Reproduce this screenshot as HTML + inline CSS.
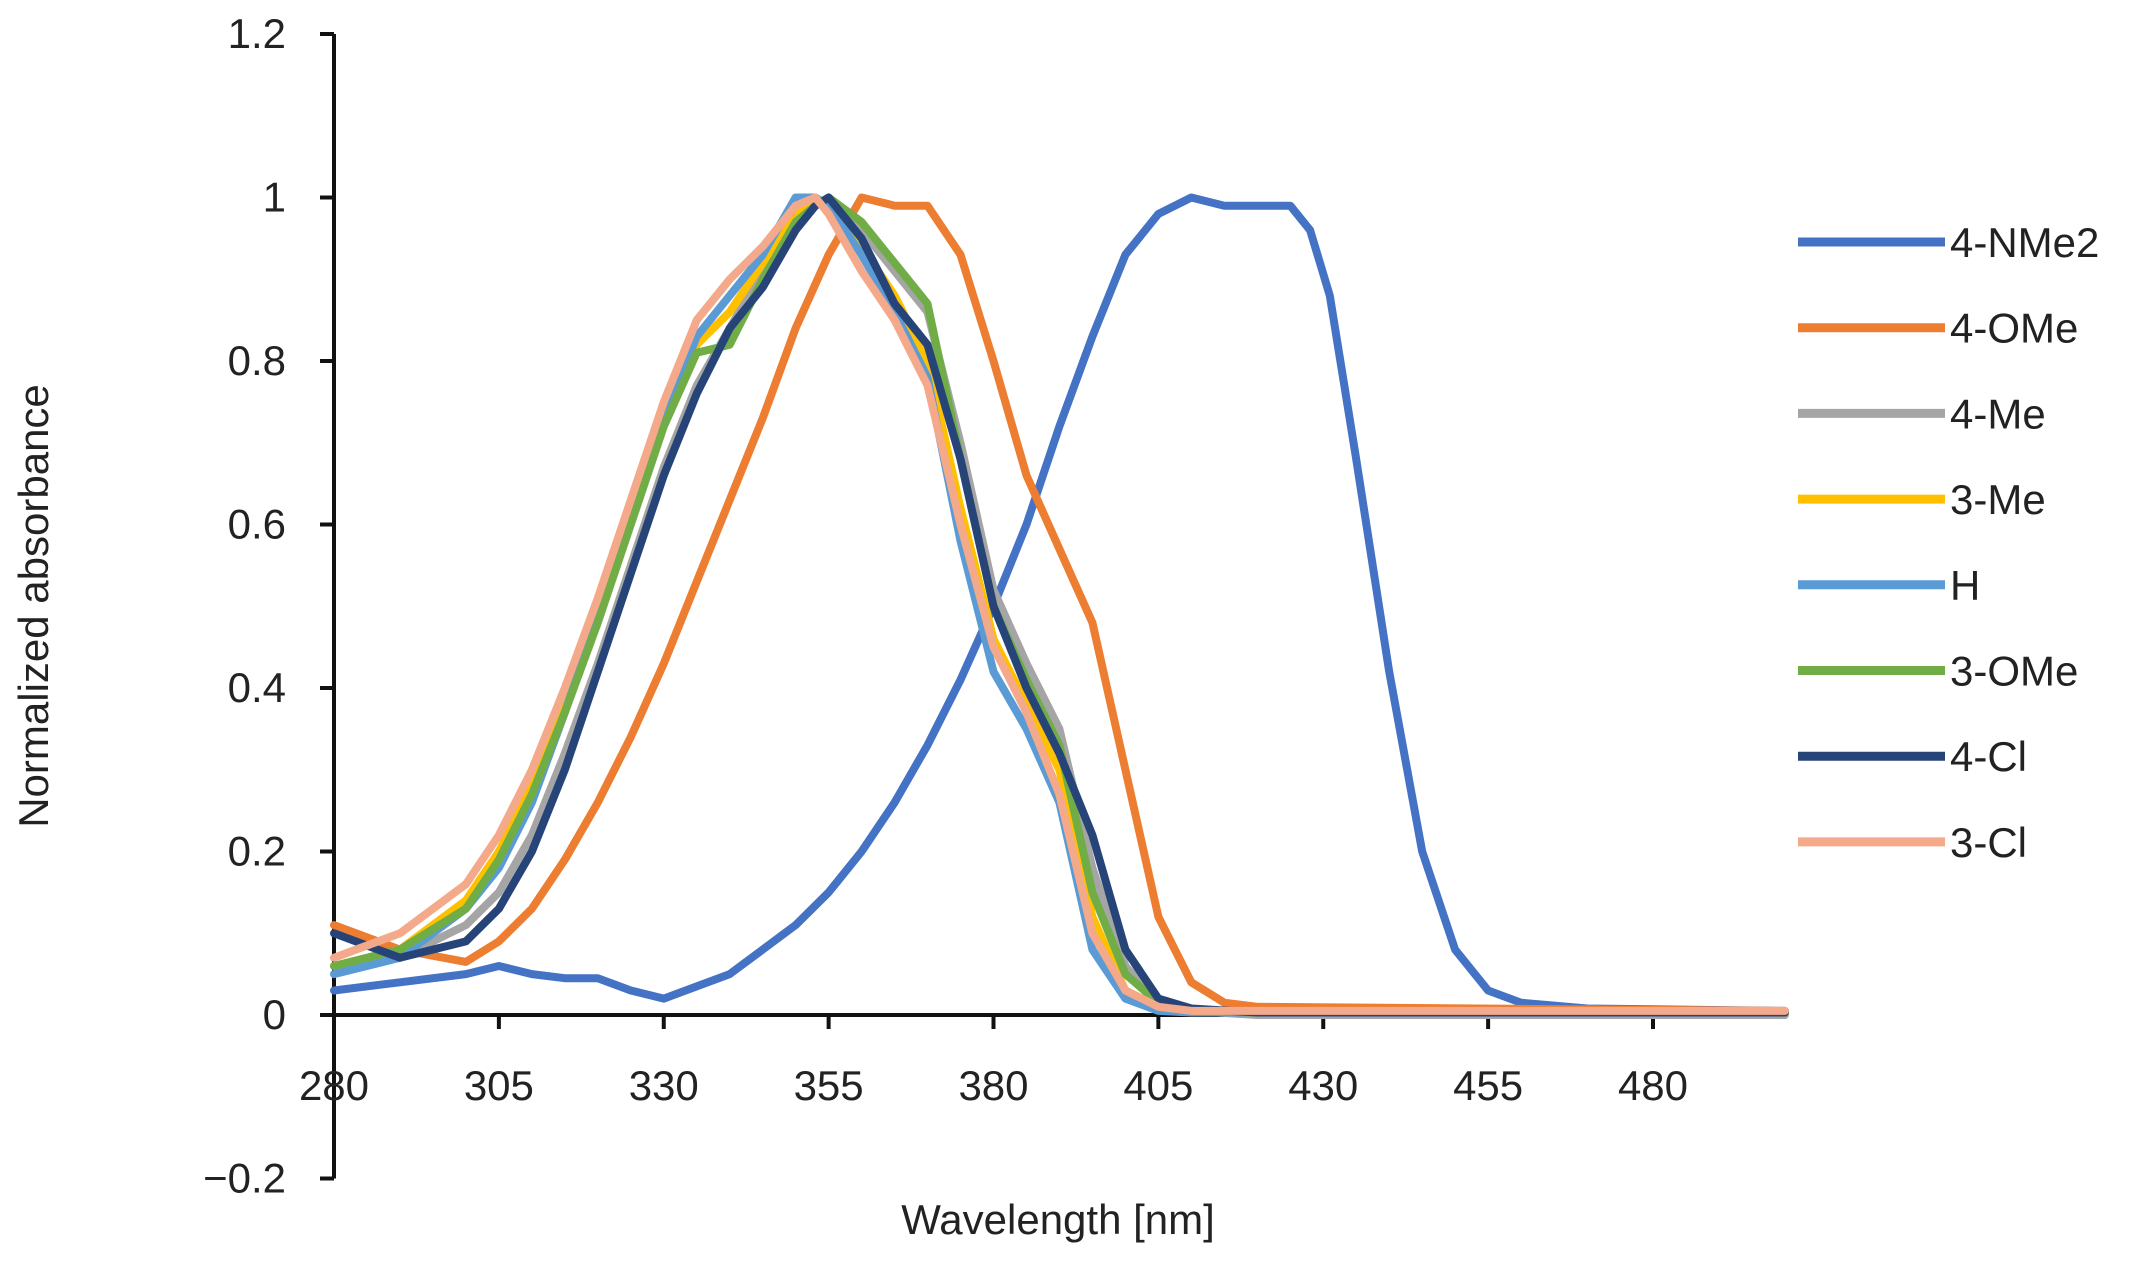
<!DOCTYPE html>
<html><head><meta charset="utf-8"><style>
html,body{margin:0;padding:0;background:#fff;}
svg text{font-family:"Liberation Sans",sans-serif;fill:#222;}
</style></head><body>
<svg id="chart" width="2136" height="1260" viewBox="0 0 2136 1260" xmlns="http://www.w3.org/2000/svg">
<g id="axes"></g>
<g id="series"></g>
<g id="legend"></g>
<text transform="translate(48,606) rotate(-90)" text-anchor="middle" font-size="42">Normalized absorbance</text>
<text x="1058" y="1234" text-anchor="middle" font-size="42">Wavelength [nm]</text>
</svg>
<script>
const xTicks=[280,305,330,355,380,405,430,455,480];
const yTicks=[-0.2,0,0.2,0.4,0.6,0.8,1,1.2];
const seriesNames=["4-NMe2","4-OMe","4-Me","3-Me","H","3-OMe","4-Cl","3-Cl"];
const seriesColors=["#4472C4","#ED7D31","#A5A5A5","#FFC000","#5B9BD5","#70AD47","#264478","#F4A98A"];
const wlNMe2=[280,290,300,305,310,315,320,325,330,335,340,345,350,355,360,365,370,375,380,385,390,395,400,405,410,415,420,425,428,431,435,440,445,450,455,460,470,500];
const valNMe2=[0.03,0.04,0.05,0.06,0.05,0.045,0.045,0.03,0.02,0.035,0.05,0.08,0.11,0.15,0.2,0.26,0.33,0.41,0.5,0.6,0.72,0.83,0.93,0.98,1.0,0.99,0.99,0.99,0.96,0.88,0.68,0.42,0.2,0.08,0.03,0.015,0.008,0.005];
const wlOMe=[280,290,300,305,310,315,320,325,330,335,340,345,350,355,360,365,370,375,380,385,390,395,400,405,410,415,420,500];
const valOMe=[0.11,0.08,0.065,0.09,0.13,0.19,0.26,0.34,0.43,0.53,0.63,0.73,0.84,0.93,1.0,0.99,0.99,0.93,0.8,0.66,0.57,0.48,0.3,0.12,0.04,0.015,0.01,0.005];
const wlGroup=[280,290,300,305,310,315,320,325,330,335,340,345,350,353,355,360,365,370,375,380,385,390,395,400,405,410,420,500];
const valMe=[0.06,0.07,0.11,0.15,0.22,0.32,0.43,0.55,0.67,0.77,0.84,0.91,0.97,0.99,1.0,0.96,0.91,0.86,0.7,0.52,0.43,0.35,0.18,0.06,0.015,0.005,0.0,0.0];
const val3Me=[0.06,0.08,0.14,0.2,0.28,0.38,0.49,0.61,0.73,0.82,0.86,0.92,0.98,1.0,0.99,0.94,0.88,0.8,0.62,0.46,0.38,0.3,0.12,0.03,0.01,0.005,0.003,0.003];
const valH=[0.05,0.07,0.13,0.18,0.26,0.37,0.49,0.61,0.73,0.83,0.88,0.93,1.0,1.0,0.99,0.93,0.86,0.78,0.58,0.42,0.35,0.26,0.08,0.02,0.005,0.003,0.003,0.003];
const val3OMe=[0.06,0.08,0.13,0.19,0.27,0.37,0.48,0.6,0.72,0.81,0.82,0.9,0.97,0.99,1.0,0.97,0.92,0.87,0.68,0.5,0.41,0.33,0.15,0.05,0.015,0.005,0.003,0.003];
const valCl=[0.1,0.07,0.09,0.13,0.2,0.3,0.42,0.54,0.66,0.76,0.84,0.89,0.96,0.99,1.0,0.95,0.87,0.82,0.68,0.5,0.4,0.32,0.22,0.08,0.02,0.008,0.003,0.003];
const val3Cl=[0.07,0.1,0.16,0.22,0.3,0.4,0.51,0.63,0.75,0.85,0.9,0.94,0.99,1.0,0.98,0.91,0.85,0.77,0.6,0.45,0.37,0.27,0.1,0.03,0.01,0.005,0.005,0.005];
const seriesWl=[wlNMe2,wlOMe,wlGroup,wlGroup,wlGroup,wlGroup,wlGroup,wlGroup];
const seriesVals=[valNMe2,valOMe,valMe,val3Me,valH,val3OMe,valCl,val3Cl];

const NS="http://www.w3.org/2000/svg";
const X0=334,XPX=(1653-334)/200;
const Y0=1015,YPX=(1015-34)/1.2;
function sx(w){return X0+(w-280)*XPX;}
function sy(v){return Y0-v*YPX;}
function mk(tag,attrs,parent){const e=document.createElementNS(NS,tag);for(const k in attrs)e.setAttribute(k,attrs[k]);parent.appendChild(e);return e;}
const axes=document.getElementById('axes');
let yl=mk('line',{x1:X0,y1:sy(1.2),x2:X0,y2:sy(-0.2),stroke:'#111','stroke-width':4},axes);


let xl=mk('line',{x1:X0,y1:Y0,x2:1786,y2:Y0,stroke:'#111','stroke-width':4},axes);


yTicks.forEach(v=>{
  const t=mk('line',{x1:X0-14,y1:sy(v),x2:X0,y2:sy(v),stroke:'#111','stroke-width':4},axes);
  
  
  const l=mk('text',{x:X0-48,y:sy(v)+14,'text-anchor':'end','font-size':42},axes);
  l.textContent=v<0?'\u2212'+Math.abs(v):String(v);
  
  
});
xTicks.forEach(w=>{
  const t=mk('line',{x1:sx(w),y1:Y0,x2:sx(w),y2:Y0+14,stroke:'#111','stroke-width':4},axes);
  
  
  const l=mk('text',{x:sx(w),y:1100,'text-anchor':'middle','font-size':42},axes);
  l.textContent=String(w);
  
  
});
const sg=document.getElementById('series');
const lg=document.getElementById('legend');
seriesNames.forEach((n,i)=>{
  const pts=seriesWl[i].map((w,j)=>sx(w).toFixed(1)+','+sy(seriesVals[i][j]).toFixed(1)).join(' ');
  const p=mk('polyline',{points:pts,fill:'none',stroke:seriesColors[i],'stroke-width':8,'stroke-linejoin':'round','stroke-linecap':'round'},sg);
  
  
  const ly=242+i*85.7;
  const ll=mk('line',{x1:1798,y1:ly,x2:1945,y2:ly,stroke:seriesColors[i],'stroke-width':9},lg);
  
  
  const lt=mk('text',{x:1950,y:ly+15,'font-size':42},lg);
  lt.textContent=n;
  
  
});
</script>
</body></html>
